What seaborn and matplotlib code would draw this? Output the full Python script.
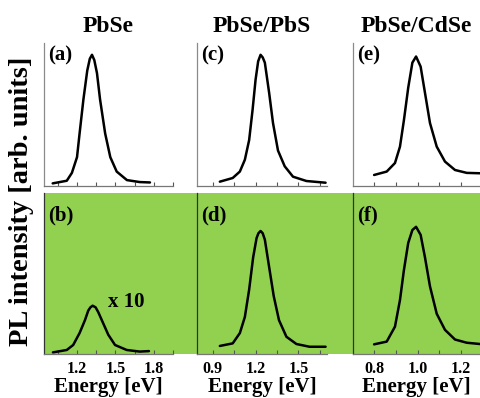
import matplotlib
matplotlib.use('Agg')
import matplotlib.pyplot as plt
from matplotlib.patches import Rectangle
from matplotlib.ticker import MultipleLocator, FixedLocator
import seaborn as sns
import pandas as pd

sns.set_style('white')
plt.rcParams['font.family'] = ['Liberation Serif', 'DejaVu Serif']
plt.rcParams['font.weight'] = 'bold'
plt.rcParams['text.color'] = 'black'
plt.rcParams['axes.labelcolor'] = 'black'
plt.rcParams['xtick.labelcolor'] = 'black'

# PL spectra (energy in eV, intensity in arb. units)
# top row: as-prepared, normalised to the PbSe/PbS peak
e_a = [1.01, 1.12, 1.16, 1.20, 1.22, 1.25, 1.28, 1.30, 1.317, 1.335, 1.356, 1.38, 1.42, 1.46, 1.51, 1.59, 1.69, 1.77]
i_a = [0.02, 0.04, 0.10, 0.22, 0.40, 0.66, 0.88, 0.97, 1.00, 0.96, 0.86, 0.66, 0.40, 0.22, 0.11, 0.045, 0.03, 0.027]
e_c = [0.95, 1.04, 1.09, 1.125, 1.155, 1.179, 1.20, 1.218, 1.235, 1.25, 1.265, 1.295, 1.322, 1.357, 1.404, 1.462, 1.556, 1.69]
i_c = [0.033, 0.061, 0.11, 0.20, 0.35, 0.58, 0.81, 0.95, 1.00, 0.98, 0.94, 0.71, 0.48, 0.27, 0.15, 0.071, 0.038, 0.025]
e_e = [0.80, 0.858, 0.896, 0.919, 0.937, 0.957, 0.976, 0.993, 1.014, 1.034, 1.057, 1.088, 1.126, 1.172, 1.226, 1.287]
i_e = [0.084, 0.11, 0.175, 0.30, 0.50, 0.75, 0.94, 0.987, 0.91, 0.71, 0.48, 0.30, 0.186, 0.122, 0.10, 0.097]
# bottom row: after treatment (PbSe multiplied by 10)
e_b = [1.012, 1.12, 1.17, 1.22, 1.262, 1.288, 1.305, 1.322, 1.345, 1.366, 1.405, 1.444, 1.497, 1.588, 1.69, 1.762]
i_b = [0.01, 0.025, 0.056, 0.13, 0.21, 0.27, 0.29, 0.30, 0.29, 0.26, 0.19, 0.12, 0.056, 0.025, 0.015, 0.018]
e_d = [0.95, 1.04, 1.09, 1.125, 1.155, 1.183, 1.207, 1.22, 1.235, 1.25, 1.265, 1.295, 1.327, 1.364, 1.416, 1.486, 1.578, 1.69]
i_d = [0.05, 0.066, 0.13, 0.23, 0.40, 0.60, 0.72, 0.75, 0.764, 0.75, 0.71, 0.54, 0.36, 0.21, 0.107, 0.062, 0.045, 0.045]
e_f = [0.80, 0.858, 0.896, 0.919, 0.937, 0.957, 0.976, 0.993, 1.014, 1.034, 1.057, 1.088, 1.126, 1.172, 1.226, 1.287]
i_f = [0.06, 0.077, 0.17, 0.335, 0.52, 0.69, 0.77, 0.79, 0.74, 0.60, 0.42, 0.25, 0.15, 0.09, 0.07, 0.062]

titles = ['PbSe', 'PbSe/PbS', 'PbSe/CdSe']
top_labels = ['(a)', '(c)', '(e)']
bot_labels = ['(b)', '(d)', '(f)']
top_data = [(e_a, i_a), (e_c, i_c), (e_e, i_e)]
bot_data = [(e_b, i_b), (e_d, i_d), (e_f, i_f)]
xlims = [(0.942, 1.95), (0.79, 1.70), (0.703, 1.287)]
majors = [[1.2, 1.5, 1.8], [0.9, 1.2, 1.5], [0.8, 1.0, 1.2]]
minor_steps = [0.15, 0.15, 0.1]

green = '#92D050'
W, H = 480, 398
fig = plt.figure(figsize=(4.8, 3.98), dpi=100)

# green band behind the bottom row
fig.patches.append(Rectangle((44 / W, 1 - 354 / H), (W - 44) / W, 161 / H,
                             transform=fig.transFigure, facecolor=green,
                             edgecolor='none', zorder=-5))

lefts = [44, 197, 353]
widths = [129, 130, 127]

for k in range(3):
    l = lefts[k] / W
    w = widths[k] / W
    ax_t = fig.add_axes([l, 1 - 186 / H, w, 143 / H])
    ax_b = fig.add_axes([l, 1 - 354 / H, w, 161 / H])
    ax_b.set_facecolor(green)
    ax_t.patch.set_alpha(0)

    e, i = top_data[k]
    sns.lineplot(data=pd.DataFrame({'E': e, 'I': i}), x='E', y='I', ax=ax_t,
                 color='black', lw=1.8, sort=False)
    e, i = bot_data[k]
    sns.lineplot(data=pd.DataFrame({'E': e, 'I': i}), x='E', y='I', ax=ax_b,
                 color='black', lw=1.8, sort=False)

    ax_t.set_ylim(0, 1.09)
    ax_b.set_ylim(0, 1.0)
    for ax, spcol in [(ax_t, '#8a8a8a'), (ax_b, '#333333')]:
        ax.set_xlim(*xlims[k])
        ax.set_xlabel('')
        ax.set_ylabel('')
        ax.set_yticks([])
        for s in ['top', 'right']:
            ax.spines[s].set_visible(False)
        ax.spines['left'].set_color(spcol)
        ax.spines['left'].set_linewidth(0.9)
        ax.spines['bottom'].set_color('#777777')
        ax.spines['bottom'].set_linewidth(0.9)
        ax.xaxis.set_major_locator(FixedLocator(majors[k]))
        ax.xaxis.set_minor_locator(MultipleLocator(minor_steps[k]))
        ax.tick_params(axis='x', which='both', direction='in', length=3,
                       width=0.8, color='#555555', bottom=True, pad=5)

    ax_t.set_xticklabels([])
    ax_b.set_xticks(majors[k])
    ax_b.set_xticklabels(['{:.1f}'.format(t) for t in majors[k]],
                         fontsize=11.5, fontweight='bold', color='black')
    ax_b.set_xlim(*xlims[k])
    ax_b.set_xlabel('Energy [eV]', fontsize=15, fontweight='bold', labelpad=0,
                    color='black')

    ax_t.set_title(titles[k], fontsize=17, fontweight='bold', pad=8, color='black')
    ax_t.text(0.03, 0.98, top_labels[k], transform=ax_t.transAxes, fontsize=15,
              fontweight='bold', va='top', ha='left', color='black')
    ax_b.text(0.03, 0.92, bot_labels[k], transform=ax_b.transAxes, fontsize=15,
              fontweight='bold', va='top', ha='left', color='black')
    if k == 0:
        ax_b.text(1.44, 0.32, 'x 10', fontsize=15, fontweight='bold',
                  ha='left', va='center', color='black')

fig.text(22 / W, 1 - 201 / H, 'PL intensity [arb. units]', rotation=90,
         fontsize=20.5, fontweight='bold', ha='center', va='center', color='black')

fig.savefig('out.png', dpi=100)
